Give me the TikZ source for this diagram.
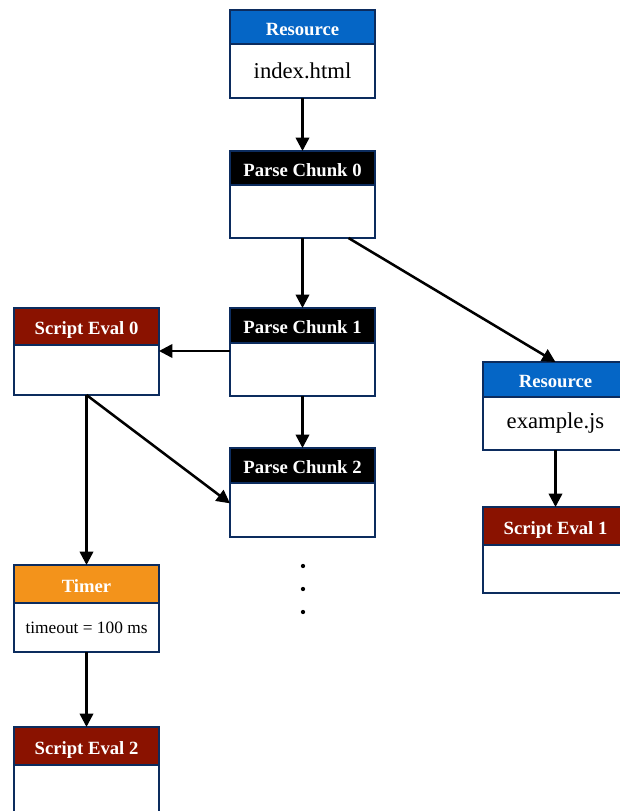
\documentclass[tikz,border=0pt]{standalone}
\usepackage{fontspec}
\setmainfont{Liberation Serif}
\definecolor{navy}{HTML}{0C2C5E}
\definecolor{resblue}{HTML}{0566C6}
\definecolor{evalred}{HTML}{8A1200}
\definecolor{timerorange}{HTML}{F3931B}
\tikzset{
  hdrbox/.style={draw=navy, line width=1.8pt, outer sep=0pt, inner sep=0pt,
    minimum width=108.75pt, text=white, text height=12pt, text depth=0pt,
    font=\bfseries\fontsize{14}{16}\selectfont},
  bodybox/.style={draw=navy, line width=1.8pt, outer sep=0pt, inner sep=0pt,
    minimum width=108.75pt, fill=white, font=\fontsize{17}{19}\selectfont},
  arr/.style={-{Stealth[length=10pt,width=10pt,inset=0pt]}, line width=1.9pt, black},
}
\usetikzlibrary{arrows.meta}
\newcommand{\mkbox}[8]{%
  \node[hdrbox, fill=#6, minimum height=#4*0.75pt, anchor=north west] (#1h) at (#2,#3) {#7};
  \node[bodybox, minimum height=#5*0.75pt, anchor=north] (#1) at (#1h.south) {#8};
}
\begin{document}
\begin{tikzpicture}[x=0.75pt,y=-0.75pt]
\useasboundingbox (0,0) rectangle (619,811);
\mkbox{resa}{230}{10}{34}{54}{resblue}{Resource}{\raisebox{-2pt}{index.html}}
\mkbox{pca}{230}{151}{34}{53}{black}{Parse Chunk 0}{}
\mkbox{pcb}{230}{308}{35}{53}{black}{Parse Chunk 1}{}
\mkbox{sea}{14}{308}{37}{50}{evalred}{Script Eval 0}{}
\mkbox{pcc}{230}{448}{35}{54}{black}{Parse Chunk 2}{}
\mkbox{resb}{483}{362}{35}{53}{resblue}{Resource}{\raisebox{-2pt}{example.js}}
\mkbox{seb}{483}{507}{38}{48}{evalred}{Script Eval 1}{}
\mkbox{tim}{14}{565}{38}{49}{timerorange}{Timer}{\fontsize{13}{15}\selectfont\raisebox{-1pt}{timeout = 100 ms}}
\mkbox{sec}{14}{727}{38}{60}{evalred}{Script Eval 2}{}

\draw[arr] (resa.south) -- (pcah.north);
\draw[arr] (pca.south) -- (pcbh.north);
\coordinate (pcaoff) at ([xshift=34.5pt]pca.south);
\draw[arr] (pcaoff) -- (resbh.north);
\coordinate (pcbl) at ([yshift=-6pt]pcb.north west);
\draw[arr] (pcbl) -- (pcbl -| sea.east);
\draw[arr] (pcb.south) -- (pcch.north);
\draw[arr] (sea.south) -- (timh.north);
\coordinate (pccl) at ([yshift=5pt]pcc.west);
\draw[arr] (sea.south) -- (pccl);
\draw[arr] (resb.south) -- (sebh.north);
\draw[arr] (tim.south) -- (sech.north);

\foreach \yy in {566,589,612} \fill (303,\yy) circle (1.6pt);
\end{tikzpicture}
\end{document}
